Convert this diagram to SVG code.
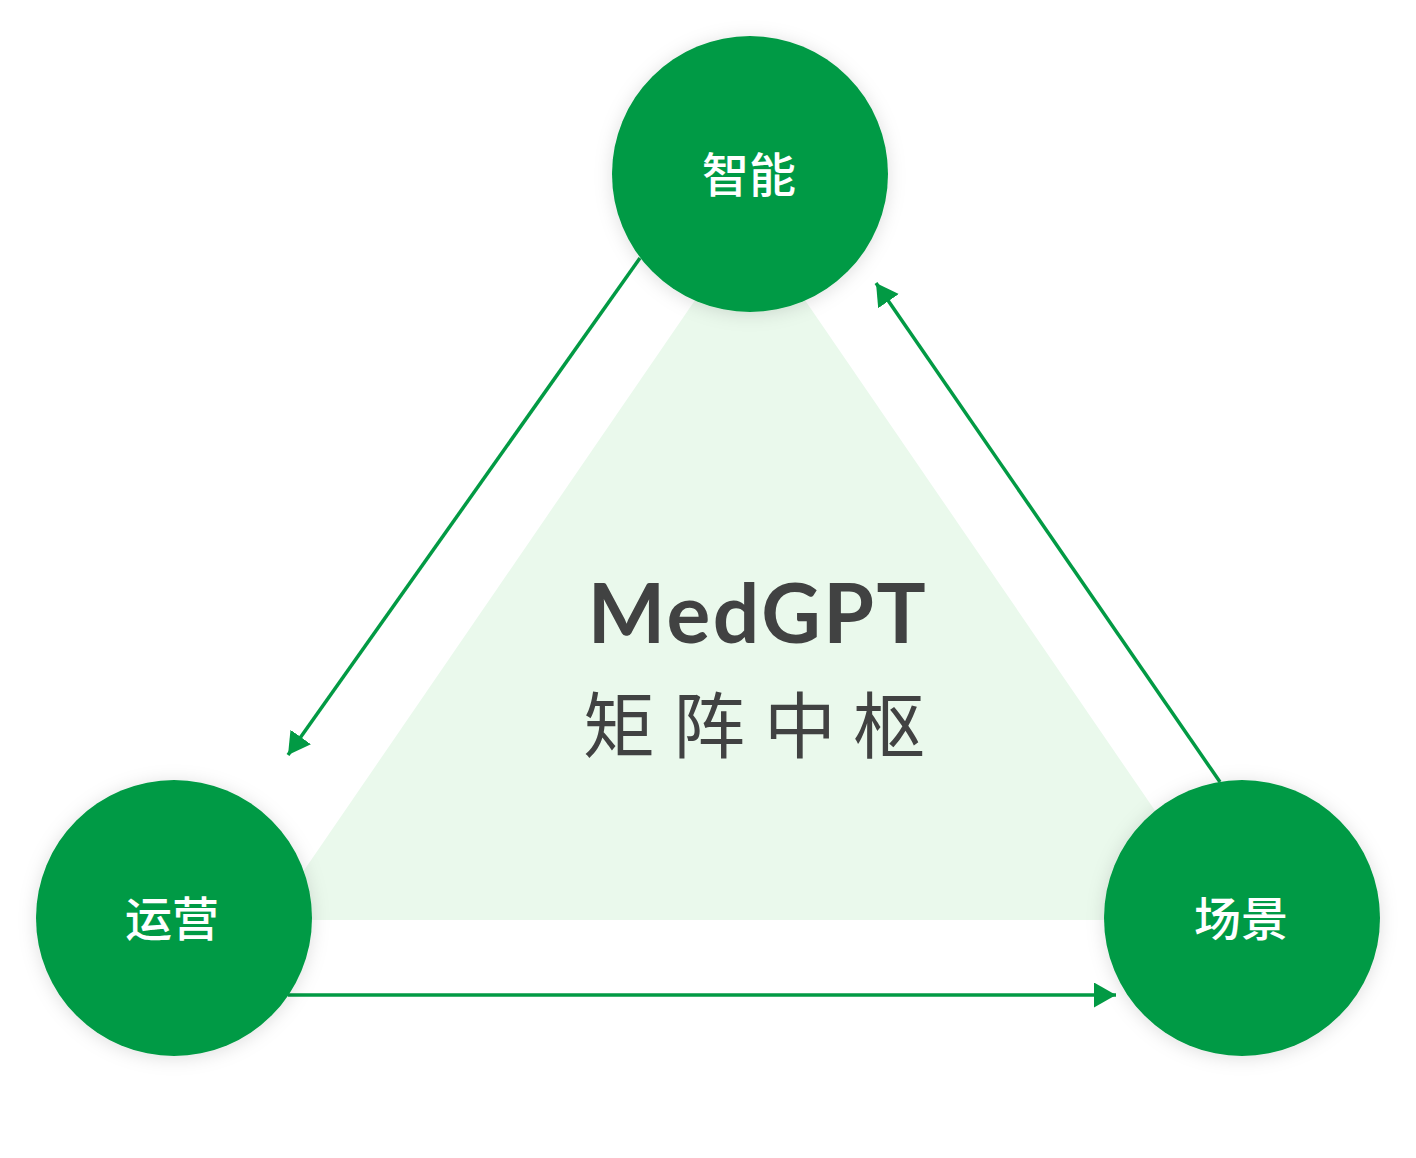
<svg xmlns="http://www.w3.org/2000/svg" width="1416" height="1158" viewBox="0 0 1416 1158">
<style>
.node{fill:#029a44;filter:url(#sh)}
.lbl{fill:#ffffff;font-family:"Noto Sans CJK SC","Noto Sans",sans-serif;font-size:47px;font-weight:500;text-anchor:middle}
.edge{stroke:#029a44;stroke-width:3.5;fill:none;marker-end:url(#ah)}
.title{fill:#414242;font-family:Lato,"Open Sans",sans-serif;font-weight:700;font-size:82px;letter-spacing:2.5px;text-anchor:middle}
.sub{fill:#414242;font-family:"Noto Sans CJK SC",sans-serif;font-size:72px;text-anchor:middle}
</style>
<defs>
<filter id="sh" x="-30%" y="-30%" width="160%" height="160%">
<feDropShadow dx="0" dy="2" stdDeviation="9" flood-color="#000" flood-opacity="0.13"/>
</filter>
<marker id="ah" markerWidth="24" markerHeight="26" refX="22" refY="12.5" orient="auto" markerUnits="userSpaceOnUse">
<path d="M0,0 L22,12.5 L0,25 Z" fill="#029a44"/>
</marker>
</defs>
<rect width="1416" height="1158" fill="#ffffff"/>
<polygon points="750,220 1230,920 270,920" fill="#eaf9ec"/>
<g id="connectors">
<line class="edge" x1="640" y1="258" x2="288" y2="755"/>
<line class="edge" x1="288" y1="995" x2="1116" y2="995"/>
<line class="edge" x1="1220" y1="782" x2="876" y2="283"/>
</g>
<g id="center">
<text class="title" x="758" y="643">MedGPT</text>
<text class="sub" x="619" y="752">矩</text>
<text class="sub" x="709" y="752">阵</text>
<text class="sub" x="800" y="752">中</text>
<text class="sub" x="889" y="752">枢</text>
</g>
<g id="node-zhineng">
<circle class="node" cx="750" cy="174" r="138"/>
<text class="lbl" x="749" y="192">智能</text>
</g>
<g id="node-yunying">
<circle class="node" cx="174" cy="918" r="138"/>
<text class="lbl" x="172" y="936">运营</text>
</g>
<g id="node-changjing">
<circle class="node" cx="1242" cy="918" r="138"/>
<text class="lbl" x="1241" y="936">场景</text>
</g>
</svg>
